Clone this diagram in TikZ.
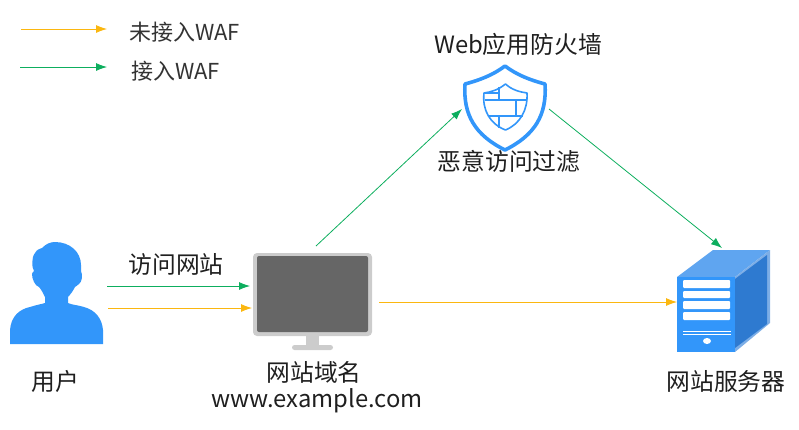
\documentclass[tikz,border=0pt]{standalone}
\usepackage{fontspec}
\usetikzlibrary{arrows.meta}
\setmainfont{Noto Sans CJK SC}
\definecolor{wafblue}{HTML}{3296FA}
\definecolor{srvtop}{HTML}{5FA5F0}
\definecolor{srvedge}{HTML}{7DAEE6}
\definecolor{srvside}{HTML}{2E7AD0}
\definecolor{arrowgreen}{HTML}{0DAE5E}
\definecolor{arroworange}{HTML}{FBB710}
\tikzset{
  link/.style={line width=0.8pt,-{Latex[length=11pt,width=8pt]}},
  greenlink/.style={link,draw=arrowgreen},
  orangelink/.style={link,draw=arroworange},
  lbl/.style={inner sep=0pt,font=\fontsize{23.8pt}{28pt}\selectfont,text=black!88},
  legendlbl/.style={inner sep=0pt,anchor=west,font=\fontsize{22pt}{26pt}\selectfont,text=black!80}
}
\begin{document}
\begin{tikzpicture}[x=1pt,y=-1pt]
\useasboundingbox (0,0) rectangle (799,429);
% legend
\coordinate (la1) at (21,29); \coordinate (la2) at (107,29);
\coordinate (lb1) at (20,67); \coordinate (lb2) at (107,67);
\draw[orangelink] (la1) -- (la2);
\draw[greenlink] (lb1) -- (lb2);
\node[legendlbl] (lega) at (129,32) {未接入WAF};
\node[legendlbl] (legb) at (131,71) {接入WAF};
% user
\fill[wafblue] (10,344) -- (10,330) .. controls (11,316) and (20,309) .. (30,307)
  .. controls (36,305) and (42,304) .. (45,303) -- (45,297)
  .. controls (43,293) and (41,289) .. (39,287)
  .. controls (35,286) and (32,279) .. (32,274)
  .. controls (32,273) and (33,272) .. (34,271)
  .. controls (32,268) and (31,258) .. (35,253)
  .. controls (37,249) and (40,249) .. (42,248)
  .. controls (46,244) and (50,242) .. (55,242)
  .. controls (70,242) and (81,252) .. (81,265)
  .. controls (81,268) and (81,270) .. (81,271)
  .. controls (83,275) and (82,282) .. (79,284)
  .. controls (77,286) and (76,286) .. (75,287)
  .. controls (73,291) and (70,295) .. (68,297) -- (68,303)
  .. controls (72,305) and (78,305) .. (84,307)
  .. controls (95,310) and (102,318) .. (103,330) -- (103,344) -- cycle;
\node[lbl] (user) at (55,381) {用户};
% monitor
\fill[black!20] (306,335) rectangle (319,346);
\fill[black!20,rounded corners=2.5pt] (292,345) rectangle (333,350);
\fill[black!20,rounded corners=4pt] (253,253) rectangle (372,336);
\fill[black!60,rounded corners=2pt] (257,256) rectangle (368,332);
\coordinate (monTop) at (316,246);
\coordinate (monInA) at (250,286);
\coordinate (monInB) at (252,308);
\coordinate (monOut) at (379,302);
\coordinate (userA) at (107,286);
\coordinate (userB) at (108,308);
\node[lbl] (visit) at (176,264) {访问网站};
\node[lbl] (domain) at (314,372) {网站域名};
\node[lbl] (url) at (317,401) {www.example.com};
% shield
\draw[wafblue,line width=3.6pt,line join=round,fill=white]
  (505,66) .. controls (517,75) and (530,80) .. (545,84)
  .. controls (547,115) and (535,135) .. (505,150)
  .. controls (475,135) and (463,115) .. (465,84)
  .. controls (480,80) and (493,75) .. (505,66) -- cycle;
\draw[wafblue,line width=1.6pt,line join=round]
  (505.5,84) .. controls (512,90) and (520,92) .. (527,93)
  .. controls (528,110) and (520,124) .. (505.5,130)
  .. controls (490,124) and (482,110) .. (484,93)
  .. controls (491,92) and (498,90) .. (505.5,84) -- cycle;
\draw[wafblue,line width=1.6pt]
  (484,93) -- (499,93) (499,87) -- (499,100)
  (485,100) -- (527,100)
  (516,100) -- (516,116)
  (488,116) -- (523,116)
  (499,116) -- (499,127.5);
\coordinate (wafIn) at (462,109);
\coordinate (wafOut) at (549,109);
\node[lbl] (waf) at (518,44) {Web应用防火墙};
\node[lbl] (filter) at (509,161) {恶意访问过滤};
% server
\fill[srvtop] (677,277) -- (713,250) -- (770,250) -- (735,277) -- cycle;
\fill[srvedge] (735,277) -- (770,250) -- (770,323) -- (735,352) -- cycle;
\fill[srvside] (735,279) -- (767,255) -- (767,324) -- (735,348) -- cycle;
\fill[wafblue] (677,277) rectangle (735,352);
\foreach \ya/\yb in {280/288,291/298,301/309,312/320}
  \fill[white,rounded corners=1pt] (683,\ya) rectangle (730,\yb);
\fill[white] (683,330.5) rectangle (731,331.5);
\fill[white] (683,334) rectangle (731,335);
\fill[white] (707,341) ellipse [x radius=4,y radius=3];
\coordinate (srvTop) at (722,248);
\coordinate (srvIn) at (677,302);
\node[lbl] (srv) at (726,381) {网站服务器};
% connectors
\draw[greenlink] (userA) -- (monInA);
\draw[orangelink] (userB) -- (monInB);
\draw[greenlink] (monTop) -- (wafIn);
\draw[greenlink] (wafOut) -- (srvTop);
\draw[orangelink] (monOut) -- (srvIn);
\end{tikzpicture}
\end{document}
